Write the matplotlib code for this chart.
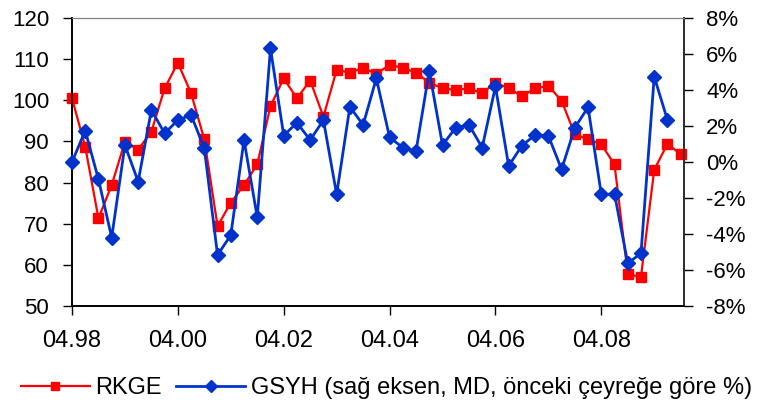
import matplotlib
matplotlib.use("Agg")
import matplotlib.pyplot as plt
import numpy as np

plt.rcParams["font.family"] = ["Liberation Sans", "DejaVu Sans"]

# quarterly data, first point = 04.98
rkge = [100.5, 88.7, 71.3, 79.4, 89.9, 88.0, 92.4, 102.9, 109.1, 101.7,
        90.5, 69.4, 75.1, 79.4, 84.4, 98.6, 105.3, 100.5, 104.8, 96.0,
        107.4, 106.7, 107.9, 106.4, 108.6, 107.9, 106.7, 104.3, 102.9, 102.5,
        102.9, 101.7, 104.3, 102.9, 101.0, 102.9, 103.5, 99.9, 91.7, 90.5,
        89.3, 84.4, 57.7, 57.1, 83.1, 89.4, 86.9]
gsyh = [0.0, 1.74, -0.96, -4.2, 0.94, -1.09, 2.89, 1.59, 2.33, 2.61,
        0.76, -5.17, -4.06, 1.22, -3.07, 6.31, 1.47, 2.18, 1.22, 2.33,
        -1.8, 3.07, 2.06, 4.65, 1.37, 0.8, 0.61, 5.06, 0.94, 1.91,
        2.06, 0.8, 4.2, -0.22, 0.91, 1.5, 1.46, -0.41, 1.91, 3.04,
        -1.8, -1.78, -5.63, -5.07, 4.74, 2.33]
xtick_labels = ["04.98", "04.00", "04.02", "04.04", "04.06", "04.08"]

RED = "#FF0000"
BLUE = "#0033CC"

fig = plt.figure(figsize=(7.73, 4.03), dpi=100)
ax = fig.add_axes([72 / 773, 1 - 306 / 403, (684 - 72) / 773, (306 - 18) / 403])
ax2 = ax.twinx()

x_r = np.arange(len(rkge))
x_g = np.arange(len(gsyh))

l1, = ax.plot(x_r, rkge, color=RED, lw=1.6, marker="s", ms=6.5,
              mec=RED, mfc=RED, clip_on=False, zorder=3)
l2, = ax2.plot(x_g, gsyh, color=BLUE, lw=2.0, marker="D", ms=7.6,
               mec=BLUE, mfc=BLUE, clip_on=False, zorder=3)

ax.set_xlim(0, 46.25)
ax.set_ylim(50, 120)
ax.set_yticks(np.arange(50, 121, 10))
ax2.set_ylim(-8, 8)
ax2.set_yticks(np.arange(-8, 9, 2))
ax2.set_yticklabels([f"{v}%" for v in range(-8, 9, 2)])
ax.set_xticks(np.arange(0, 41, 8))
ax.set_xticklabels(xtick_labels)

ax.tick_params(axis="y", direction="out", length=6.5, width=1,
               labelsize=16, colors="black", pad=10)
ax2.tick_params(axis="y", direction="out", length=6.5, width=1,
                labelsize=16, colors="black", pad=9.5)
ax.tick_params(axis="x", direction="out", length=6.5, width=1,
               labelsize=17, colors="black", pad=10.5)

ax.spines["top"].set_color("#808080")
ax2.spines["top"].set_color("#808080")
ax.spines["left"].set_color("black")
ax.spines["bottom"].set_color("black")
ax2.spines["right"].set_color("#333333")
for s in ("left", "bottom", "right"):
    ax2.spines[s].set_linewidth(1.2)
    ax.spines[s].set_linewidth(1.2)

fig.legend([l1, l2], ["RKGE", "GSYH (sağ eksen, MD, önceki çeyreğe göre %)"],
           loc="center", bbox_to_anchor=(0.5, 1 - 388 / 403), ncol=2,
           frameon=False, fontsize=17, handlelength=2.9, handletextpad=0.25,
           columnspacing=0.6, markerscale=0.85, borderpad=0, borderaxespad=0)

fig.savefig("out.png", dpi=100)
